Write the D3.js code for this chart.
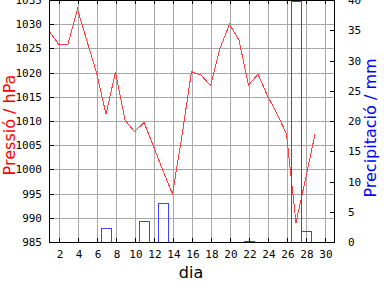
<!DOCTYPE html>
<html>
<head>
<meta charset="utf-8">
<script src="https://cdn.jsdelivr.net/npm/d3@7"></script>
<style>
  body { margin: 0; background: #ffffff; }
  svg { display: block; }
  .tick text { font-family: "DejaVu Sans Mono", monospace; font-size: 11px; fill: #000; }
  .axis-title { font-family: "DejaVu Sans", Verdana, sans-serif; font-size: 16px; }
</style>
</head>
<body>
<div id="chart"></div>
<script>
// Daily values
var days = [1, 2, 3, 4, 5, 6, 7, 8, 9, 10, 11, 12, 13, 14, 15, 16, 17, 18, 19, 20,
  21, 22, 23, 24, 25, 26, 27, 28, 29];
var pressure = [1028.6, 1025.9, 1025.9, 1033.1, 1026.5, 1020.0, 1011.4, 1020.1, 1010.2, 1007.8,
  1009.7, 1004.8, 999.7, 994.9, 1007.0, 1020.2, 1019.5, 1017.3, 1025.0, 1030.0,
  1026.7, 1017.4, 1019.7, 1015.2, 1011.5, 1007.3, 989.0, 998.0, 1007.3];

var rainDays = [7, 10, 11, 12, 13, 14, 22, 27, 28, 29];
var rain = [2.3, 0, 3.5, 0, 6.4, 0, 0.15, 39.8, 1.9, 0];

var dayTicks = [2, 4, 6, 8, 10, 12, 14, 16, 18, 20, 22, 24, 26, 28, 30];
var pressureTicks = [985, 990, 995, 1000, 1005, 1010, 1015, 1020, 1025, 1030, 1035];
var rainTicks = [0, 5, 10, 15, 20, 25, 30, 35, 40];

var width = 384;
var height = 288;
// plot box (note: "top" is reserved on window, so use plotTop)
var plotLeft = 49, plotRight = 334, plotTop = 0, plotBottom = 242;

var svg = d3.select("#chart").append("svg")
  .attr("width", width)
  .attr("height", height);

svg.append("rect")
  .attr("width", width)
  .attr("height", height)
  .attr("fill", "#ffffff");

var x = d3.scaleLinear().domain([0.895, 30.895]).range([plotLeft, plotRight]);
var yP = d3.scaleLinear().domain([985, 1035]).range([plotBottom, plotTop]);
var yR = d3.scaleLinear().domain([0, 40]).range([plotBottom, plotTop]);

svg.append("clipPath").attr("id", "plot-clip")
  .append("rect")
  .attr("x", plotLeft).attr("y", plotTop)
  .attr("width", plotRight - plotLeft).attr("height", plotBottom - plotTop);

// Grid
var grid = svg.append("g")
  .attr("stroke", "#a8a8a8")
  .attr("stroke-width", 1)
  .attr("shape-rendering", "crispEdges");

grid.selectAll("line.h")
  .data(pressureTicks.slice(1, -1))
  .enter().append("line")
  .attr("x1", plotLeft).attr("x2", plotRight)
  .attr("y1", function(d) { return Math.round(yP(d)) + 0.5; })
  .attr("y2", function(d) { return Math.round(yP(d)) + 0.5; });

grid.selectAll("line.v")
  .data(dayTicks)
  .enter().append("line")
  .attr("y1", plotTop).attr("y2", plotBottom)
  .attr("x1", function(d) { return Math.round(x(d)) + 0.5; })
  .attr("x2", function(d) { return Math.round(x(d)) + 0.5; });

// Pressure line
var line = d3.line()
  .x(function(d, i) { return x(days[i]) - 1; })
  .y(function(d) { return yP(d); });

svg.append("path")
  .datum(pressure)
  .attr("clip-path", "url(#plot-clip)")
  .attr("d", line)
  .attr("fill", "none")
  .attr("stroke", "#ff4040")
  .attr("stroke-width", 1)
  .attr("shape-rendering", "crispEdges");

// Precipitation bars (outlined)
var barW = x(1) - x(0);
svg.append("g")
  .attr("clip-path", "url(#plot-clip)")
  .selectAll("rect")
  .data(rain)
  .enter().append("rect")
  .attr("x", function(d, i) { return Math.round(x(rainDays[i]) - barW / 2 - 1) + 0.5; })
  .attr("width", Math.round(barW))
  .attr("y", function(d) { return Math.round(yR(d)) + 0.5; })
  .attr("height", function(d) { return Math.round(yR(0)) - Math.round(yR(d)); })
  .attr("fill", "none")
  .attr("stroke", "#4040ff")
  .attr("stroke-width", 1)
  .attr("shape-rendering", "crispEdges");

// Axes
var fmt = d3.format("d");

svg.append("g")
  .attr("transform", "translate(" + plotLeft + ",0)")
  .call(d3.axisLeft(yP).tickValues(pressureTicks).tickFormat(fmt)
    .tickSize(-5).tickPadding(7).tickSizeOuter(0));

svg.append("g")
  .attr("transform", "translate(" + plotRight + ",0)")
  .call(d3.axisRight(yR).tickValues(rainTicks).tickFormat(fmt)
    .tickSize(-4).tickPadding(14).tickSizeOuter(0));

svg.append("g")
  .attr("transform", "translate(0," + plotBottom + ")")
  .call(d3.axisBottom(x).tickValues(dayTicks).tickFormat(fmt)
    .tickSize(-4).tickPadding(8).tickSizeOuter(0));

svg.append("g")
  .attr("transform", "translate(0," + plotTop + ")")
  .call(d3.axisTop(x).tickValues(dayTicks).tickSize(-4).tickFormat("").tickSizeOuter(0));

svg.selectAll(".domain, .tick line")
  .attr("stroke", "#000")
  .attr("shape-rendering", "crispEdges");

// Axis titles
svg.append("text")
  .attr("class", "axis-title")
  .attr("transform", "translate(15,125) rotate(-90)")
  .attr("text-anchor", "middle")
  .attr("fill", "#ff0000")
  .text("Pressió / hPa");

svg.append("text")
  .attr("class", "axis-title")
  .attr("transform", "translate(376,128) rotate(-90)")
  .attr("text-anchor", "middle")
  .attr("fill", "#0000ff")
  .text("Precipitació / mm");

svg.append("text")
  .attr("class", "axis-title")
  .attr("x", 191)
  .attr("y", 278)
  .attr("text-anchor", "middle")
  .attr("fill", "#000")
  .text("dia");
</script>
</body>
</html>
